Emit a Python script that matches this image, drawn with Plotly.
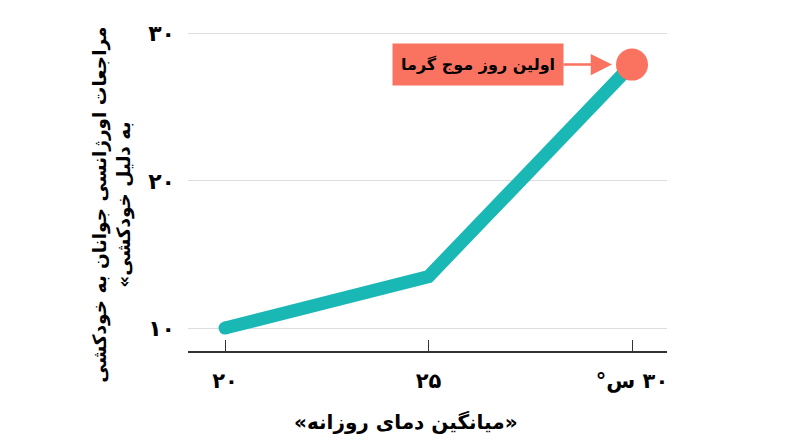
import plotly.graph_objects as go

######################################################################
########################      Datos           ########################
######################################################################

temp_media = [20, 25, 30]          # eje x (°C)
visitas = [10, 13.5, 27.9]         # eje y
x_tick_vals = [20, 25, 30]
x_tick_text = ['۲۰', '۲۵', '\u202b۳۰ س°\u202c']
y_tick_vals = [10, 20, 30]
y_tick_text = ['۱۰', '۲۰', '۳۰']

titulo_y = 'مراجعات اورژانسی جوانان به خودکشی<br>\u202bبه دلیل خودکشی»\u202c'
titulo_x = '\u202b«میانگین دمای روزانه»\u202c'
nota_texto = 'اولین روز موج گرما'

######################################################################
########################      Figura          ########################
######################################################################

FUENTE = 'DejaVu Sans'
teal = '#19b8b5'
salmon = '#fa7260'

fig = go.Figure()

# línea principal
fig.add_trace(go.Scatter(
    x=temp_media,
    y=visitas,
    mode='lines',
    line=dict(color=teal, width=13),
    hoverinfo='skip'
))

# punta redondeada al inicio de la línea
fig.add_trace(go.Scatter(
    x=temp_media[:1],
    y=visitas[:1],
    mode='markers',
    marker=dict(color=teal, size=13, opacity=1, line=dict(width=0)),
    hoverinfo='skip'
))

# punto del primer día de ola de calor
fig.add_trace(go.Scatter(
    x=temp_media[-1:],
    y=visitas[-1:],
    mode='markers',
    marker=dict(color=salmon, size=32, opacity=1, line=dict(width=0)),
    hoverinfo='skip'
))

fig.update_xaxes(
    range=[19.09, 30.86],
    tickvals=x_tick_vals,
    ticktext=x_tick_text,
    ticks='inside',
    ticklen=11,
    tickwidth=1.2,
    tickcolor='#333333',
    showline=True,
    linecolor='#333333',
    linewidth=2,
    showgrid=False,
    zeroline=False,
    ticklabelstandoff=10,
    tickfont=dict(family=FUENTE, size=21, color='black', weight=700)
)

fig.update_yaxes(
    range=[8.44, 31],
    tickvals=y_tick_vals,
    ticktext=y_tick_text,
    ticks='',
    showline=False,
    showgrid=True,
    gridcolor='#dddddd',
    gridwidth=1,
    zeroline=False,
    ticklabelstandoff=12,
    tickfont=dict(family=FUENTE, size=22, color='black', weight=700)
)

# títulos de los ejes como anotaciones
fig.add_annotation(
    xref='paper', yref='paper',
    x=-0.159, y=0.44,
    text=titulo_y,
    textangle=-90,
    showarrow=False,
    align='center',
    xanchor='center', yanchor='middle',
    font=dict(family=FUENTE, size=18.5, color='black', weight=700)
)

fig.add_annotation(
    xref='paper', yref='paper',
    x=0.455, y=-0.214,
    text=titulo_x,
    showarrow=False,
    xanchor='center', yanchor='middle',
    font=dict(family=FUENTE, size=20, color='black', weight=700)
)

# nota con flecha (horizontal)
fig.add_annotation(
    x=temp_media[-1],
    y=visitas[-1],
    text=nota_texto,
    showarrow=True,
    ax=-154,
    ay=0,
    standoff=20,
    arrowhead=2,
    arrowsize=1.7,
    arrowwidth=2.5,
    arrowcolor=salmon,
    bgcolor=salmon,
    borderpad=8,
    height=25,
    font=dict(family=FUENTE, size=16, color='black', weight=700)
)

fig.update_layout(
    width=800,
    height=447,
    showlegend=False,
    plot_bgcolor='white',
    paper_bgcolor='white',
    margin=dict(l=188, r=133, t=19, b=96)
)

# quitar el margen del body para que la figura quede en (0, 0)
fig.write_html("out.html",
               config={'displayModeBar': False},
               post_script="document.body.style.margin='0';")
